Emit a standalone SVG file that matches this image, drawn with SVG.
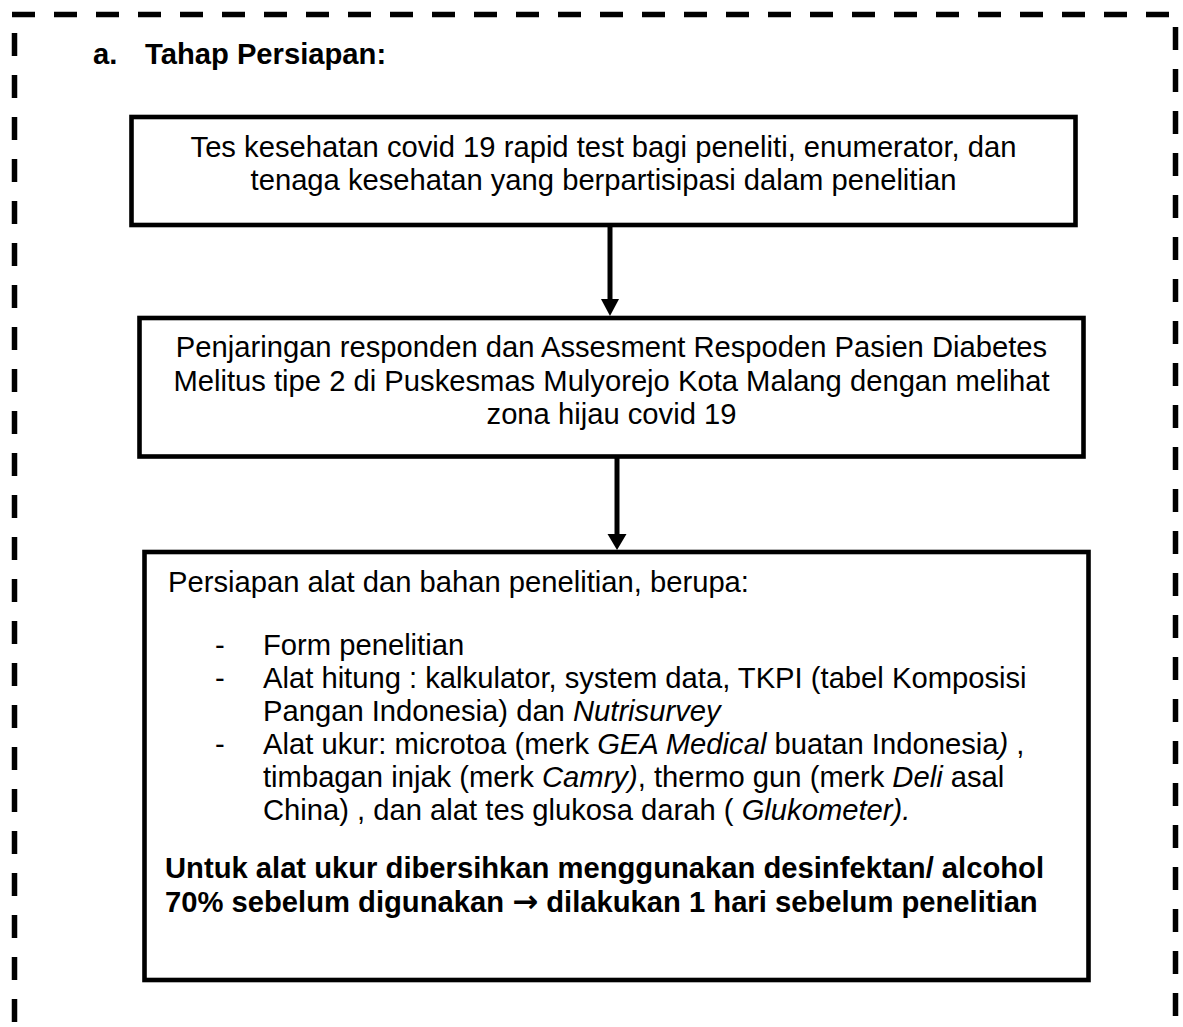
<svg xmlns="http://www.w3.org/2000/svg" width="1183" height="1027" viewBox="0 0 1183 1027">
<style>
.t{font-family:"Liberation Sans",Arial,sans-serif;font-size:29.2px;fill:#000}
.b{font-weight:bold}
.i{font-style:italic}
.c{text-anchor:middle}
.arr{font-family:"DejaVu Sans",sans-serif;font-weight:bold;font-size:31px}
.box{fill:#fff;stroke:#000;stroke-width:4.6}
.dash{fill:none;stroke:#000;stroke-width:5.5;stroke-dasharray:23 19}
.conn{stroke:#000;stroke-width:5;fill:none}
</style>
<rect width="1183" height="1027" fill="#fff"/>
<g id="border">
<path class="dash" d="M12 14.5H1175"/>
<path class="dash" d="M14.5 33V1040"/>
<path class="dash" d="M1175.5 27V1040"/>
</g>
<g id="title">
<text class="t b" x="93" y="64">a.</text>
<text class="t b" x="145" y="64">Tahap Persiapan:</text>
</g>
<g id="node1">
<rect class="box" x="131.5" y="117" width="944" height="108"/>
<text class="t c" x="603.5" y="157">Tes kesehatan covid 19 rapid test bagi peneliti, enumerator, dan</text>
<text class="t c" x="603.5" y="190">tenaga kesehatan yang berpartisipasi dalam penelitian</text>
</g>
<g id="node2">
<rect class="box" x="139.5" y="318" width="944" height="138.5"/>
<text class="t c" x="611.5" y="357">Penjaringan responden dan Assesment Respoden Pasien Diabetes</text>
<text class="t c" x="611.5" y="390.5">Melitus tipe 2 di Puskesmas Mulyorejo Kota Malang dengan melihat</text>
<text class="t c" x="611.5" y="424">zona hijau covid 19</text>
</g>
<g id="node3">
<rect class="box" x="144.5" y="552" width="944" height="428"/>
<text class="t" x="168" y="591.5">Persiapan alat dan bahan penelitian, berupa:</text>
<text class="t" x="215" y="655">-</text>
<text class="t" x="263" y="655">Form penelitian</text>
<text class="t" x="215" y="688">-</text>
<text class="t" x="263" y="688">Alat hitung : kalkulator, system data, TKPI (tabel Komposisi</text>
<text class="t" x="263" y="721">Pangan Indonesia) dan <tspan class="i">Nutrisurvey</tspan></text>
<text class="t" x="215" y="754">-</text>
<text class="t" x="263" y="754">Alat ukur: microtoa (merk <tspan class="i">GEA Medical</tspan> buatan Indonesia<tspan class="i">)</tspan> ,</text>
<text class="t" x="263" y="787">timbagan injak (merk <tspan class="i">Camry)</tspan>, thermo gun (merk <tspan class="i">Deli</tspan> asal</text>
<text class="t" x="263" y="820">China) , dan alat tes glukosa darah ( <tspan class="i">Glukometer).</tspan></text>
<text class="t b" x="165" y="878">Untuk alat ukur dibersihkan menggunakan desinfektan/ alcohol</text>
<text class="t b" x="165" y="911.5">70% sebelum digunakan <tspan class="arr">→</tspan> dilakukan 1 hari sebelum penelitian</text>
</g>
<g id="connectors">
<line class="conn" x1="610" y1="227" x2="610" y2="302"/>
<polygon points="601,299 619,299 610,316"/>
<line class="conn" x1="617" y1="458" x2="617" y2="537"/>
<polygon points="607.5,534 626.5,534 617,550"/>
</g>
</svg>
